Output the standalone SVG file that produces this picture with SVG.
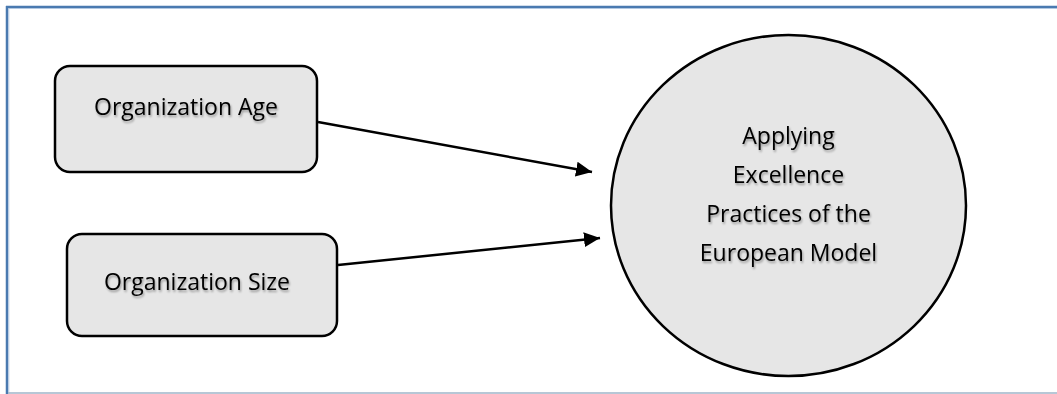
<svg xmlns="http://www.w3.org/2000/svg" width="1057" height="394" viewBox="0 0 1057 394">
<defs>
<marker id="arr" markerUnits="userSpaceOnUse" markerWidth="16" markerHeight="15" refX="16" refY="7.5" orient="auto" viewBox="0 0 16 15">
<path d="M0,0 L16,7.5 L0,15 Z" fill="#000"/>
</marker>
<filter id="ts" x="-10%" y="-30%" width="120%" height="160%">
<feGaussianBlur in="SourceAlpha" stdDeviation="1"/>
<feOffset dx="1" dy="1.5" result="b"/>
<feComponentTransfer><feFuncA type="linear" slope="0.35"/></feComponentTransfer>
<feMerge><feMergeNode/><feMergeNode in="SourceGraphic"/></feMerge>
</filter>
</defs>
<style>
.node{fill:#e6e6e6;stroke:#000;stroke-width:2.5}
.lbl{font-family:"Open Sans","Liberation Sans",sans-serif;font-size:23px;fill:#000;text-anchor:middle;filter:url(#ts)}
.conn{stroke:#000;stroke-width:2.5;fill:none;marker-end:url(#arr)}
</style>
<rect width="1057" height="394" fill="#fff"/>
<g id="frame">
<line x1="6" y1="7" x2="1057" y2="7" stroke="#4a7ab0" stroke-width="2.5"/>
<line x1="7" y1="6" x2="7" y2="394" stroke="#4a7ab0" stroke-width="2.5"/>
<line x1="9" y1="8.5" x2="1057" y2="8.5" stroke="#a9c3e0" stroke-width="0.8"/>
<line x1="8.8" y1="8.5" x2="8.8" y2="394" stroke="#a9c3e0" stroke-width="0.8"/>
<line x1="8" y1="393" x2="1057" y2="393" stroke="#9fb4c8" stroke-width="1.5"/>
</g>
<g id="connectors">
<line class="conn" x1="318" y1="122" x2="592" y2="172"/>
<line class="conn" x1="338" y1="265" x2="600" y2="238"/>
</g>
<g id="node-age">
<rect class="node" x="55" y="66" width="262" height="106" rx="15"/>
<text class="lbl" x="186" y="115">Organization Age</text>
</g>
<g id="node-size">
<rect class="node" x="67" y="234" width="270" height="102" rx="15"/>
<text class="lbl" x="197" y="290">Organization Size</text>
</g>
<g id="node-excellence">
<ellipse class="node" cx="788.5" cy="205.5" rx="177.5" ry="170.5"/>
<text class="lbl" x="788.5" y="144">Applying</text>
<text class="lbl" x="788.5" y="183">Excellence</text>
<text class="lbl" x="788.5" y="222">Practices of the</text>
<text class="lbl" x="788.5" y="261">European Model</text>
</g>
</svg>
